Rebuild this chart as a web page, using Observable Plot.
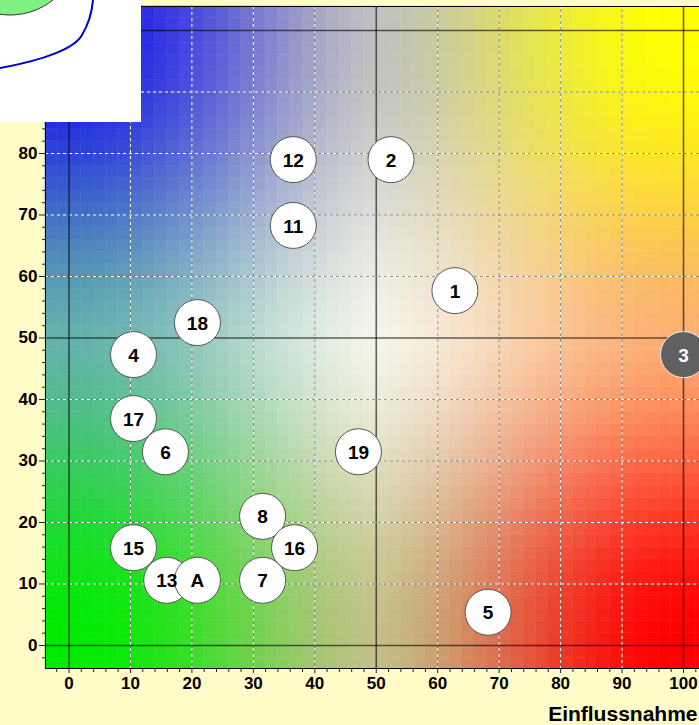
<!DOCTYPE html>
<html><head><meta charset="utf-8">
<script src="https://cdn.jsdelivr.net/npm/d3@7"></script>
<script src="https://cdn.jsdelivr.net/npm/@observablehq/plot@0.6"></script>
<style>
body{margin:0;background:#FFFCC8;}
#wrap{position:relative;width:699px;height:725px;overflow:hidden;background:#FFFCC8;}
#inset{position:absolute;left:0;top:0;}
</style></head><body><div id="wrap"></div>
<script>
// Data
const labels  = ["12","2","11","1","18","4","3","17","6","19","8","16","15","13","A","7","5"];
const xValues = [36.5,52.4,36.5,62.8,20.9,10.5,100,10.5,15.7,47.1,31.5,36.7,10.5,15.9,20.9,31.5,68.2];
const yValues = [79,79,68.3,57.7,52.5,47.3,47.3,36.9,31.5,31.5,21,15.9,15.9,10.6,10.6,10.6,5.4];
const highlighted = ["3"];
const xTicks = [0,10,20,30,40,50,60,70,80,90,100];
const yTicks = [0,10,20,30,40,50,60,70,80];
const xLabel = "Einflussnahme";

// background colour field control colours (rows: y=0,50,100; cols: x=0,50,100)
const fieldColors = [
  [[0,235,0],[195,192,135],[255,0,0]],
  [[100,178,172],[245,245,235],[252,175,115]],
  [[20,20,235],[192,192,192],[255,255,0]]
];

const xDom = [-3.824, 102.6], yDom = [-3.74, 103.9];

const points = labels.map((l,i)=>({label:l, x:xValues[i], y:yValues[i], hi: highlighted.includes(l)}));

// t: 0 at the centre lines, 1 at the outer edges
function ease(t){return 0.25*(2*t-t*t)+0.75*t*t*(3-2*t);}
function colorAt(x,y){
  const cx=Math.max(0,Math.min(100,x)), cy=Math.max(0,Math.min(100,y));
  const i = cx<50?0:2, j = cy<50?0:2;
  const fu = ease(Math.abs(cx-50)/50), fv = ease(Math.abs(cy-50)/50);
  const cC=fieldColors[1][1], cX=fieldColors[1][i], cY=fieldColors[j][1], cXY=fieldColors[j][i];
  const c=[0,1,2].map(k=>Math.round(cC[k]*(1-fu)*(1-fv)+cX[k]*fu*(1-fv)+cY[k]*(1-fu)*fv+cXY[k]*fu*fv));
  return `rgb(${c[0]},${c[1]},${c[2]})`;
}
const cells=[];
for(let gx=-4; gx<104; gx+=2){
  for(let gy=-4; gy<106; gy+=2){
    const x1=Math.max(xDom[0],gx), x2=Math.min(xDom[1],gx+2);
    const y1=Math.max(yDom[0],gy), y2=Math.min(yDom[1],gy+2);
    if(x2<=x1||y2<=y1) continue;
    cells.push({x1,x2,y1,y2,fill:colorAt(gx+1,gy+1)});
  }
}
const gridMinor = xTicks.filter(t=>t!==0&&t!==50&&t!==100);
const gridMinorY = [10,20,30,40,60,70,80,90];
const minorX = d3.range(-2,103,2).filter(t=>t%10!==0);
const minorY = d3.range(-2,104,2).filter(t=>t%10!==0);
const font = "'Liberation Sans', Arial, sans-serif";

const plot = Plot.plot({
  width:699, height:725,
  marginLeft:45, marginRight:0, marginTop:6, marginBottom:57,
  style:{fontFamily:font, background:"transparent", overflow:"hidden"},
  x:{domain:xDom, axis:null},
  y:{domain:yDom, axis:null},
  marks:[
    Plot.rect(cells,{x1:"x1",x2:"x2",y1:"y1",y2:"y2",fill:"fill",stroke:"fill",strokeWidth:0.5}),
    Plot.ruleX(gridMinor,{stroke:"#666",strokeOpacity:0.6}),
    Plot.ruleX(gridMinor,{stroke:"white",strokeDasharray:"3,3"}),
    Plot.ruleY(gridMinorY,{stroke:"#666",strokeOpacity:0.6}),
    Plot.ruleY(gridMinorY,{stroke:"white",strokeDasharray:"3,3"}),
    Plot.ruleX([0,50,100],{stroke:"black",strokeOpacity:0.6,strokeWidth:1.6}),
    Plot.ruleY([0,50,100],{stroke:"black",strokeOpacity:0.6,strokeWidth:1.6}),
    Plot.frame({stroke:"black",strokeWidth:1}),
    Plot.axisX({anchor:"bottom",ticks:xTicks,tickSize:5,tickPadding:3,stroke:"#222",fontSize:17,fontWeight:"bold",fill:"black",label:null,tickFormat:d=>String(d)}),
    Plot.axisX({anchor:"bottom",ticks:minorX,tickSize:4,stroke:"#222",tickFormat:()=>"",label:null}),
    Plot.axisY({anchor:"left",ticks:yTicks,tickSize:6,tickPadding:2,stroke:"#222",fontSize:17,fontWeight:"bold",fill:"black",label:null,tickFormat:d=>String(d)}),
    Plot.axisY({anchor:"left",ticks:minorY,tickSize:3,stroke:"#222",tickFormat:()=>"",label:null}),
    Plot.dot(points,{x:"x",y:"y",r:23,fill:d=>d.hi?"#606060":"white",stroke:d=>d.hi?"#eeeeee":"#555",strokeWidth:1}),
    Plot.text(points,{x:"x",y:"y",text:"label",fill:d=>d.hi?"white":"black",fontSize:19,fontWeight:"bold",dy:1}),
    Plot.text([xLabel],{frameAnchor:"bottom-right",dx:-2,dy:52,textAnchor:"end",lineAnchor:"bottom",fontSize:21,fontWeight:"bold",fill:"black"})
  ]
});
const wrap=document.getElementById("wrap");
wrap.appendChild(plot);
const ns="http://www.w3.org/2000/svg";
const inset=document.createElementNS(ns,"svg");
inset.setAttribute("id","inset");
inset.setAttribute("width","141");inset.setAttribute("height","122");
inset.innerHTML = '<rect x="0" y="0" width="141" height="122" fill="white"/>'+
 '<circle cx="10" cy="-54" r="69" fill="#80F080" stroke="#333" stroke-width="1"/>'+
 '<path d="M0,68 C45,60 75,48 82,35 C88,25 92,12 93,0" fill="none" stroke="#0000CC" stroke-width="2"/>';
wrap.appendChild(inset);
</script></body></html>
